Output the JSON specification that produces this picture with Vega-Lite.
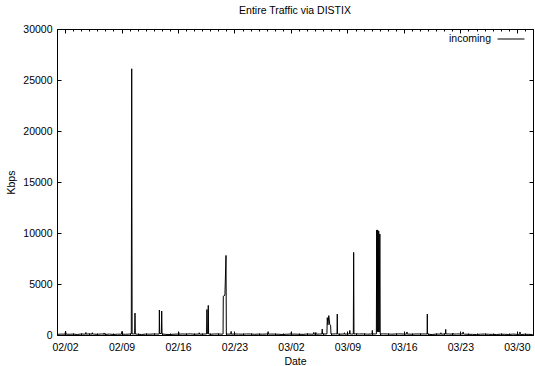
{
  "$schema": "https://vega.github.io/schema/vega-lite/v6.json",
  "width": 476,
  "height": 306,
  "autosize": {"type": "none"},
  "padding": {"left": 57, "top": 29, "right": 2, "bottom": 31},
  "title": {"text": "Entire Traffic via DISTIX", "font": "Liberation Sans", "fontSize": 10.5, "fontWeight": "normal", "color": "#000", "offset": 8, "anchor": "middle"},
  "data": {"values": [
    {"t": "2003-02-01 00:00", "v": 60}, {"t": "2003-02-01 12:00", "v": 90},
    {"t": "2003-02-02 00:00", "v": 80}, {"t": "2003-02-02 12:00", "v": 70},
    {"t": "2003-02-03 00:00", "v": 90}, {"t": "2003-02-03 12:00", "v": 50},
    {"t": "2003-02-04 00:00", "v": 100}, {"t": "2003-02-04 12:00", "v": 80},
    {"t": "2003-02-05 00:00", "v": 110}, {"t": "2003-02-05 12:00", "v": 90},
    {"t": "2003-02-06 00:00", "v": 70}, {"t": "2003-02-06 12:00", "v": 100},
    {"t": "2003-02-07 00:00", "v": 60}, {"t": "2003-02-07 12:00", "v": 90},
    {"t": "2003-02-08 00:00", "v": 50}, {"t": "2003-02-08 12:00", "v": 80},
    {"t": "2003-02-09 00:00", "v": 80}, {"t": "2003-02-09 12:00", "v": 70},
    {"t": "2003-02-10 00:00", "v": 90}, {"t": "2003-02-10 12:00", "v": 100},
    {"t": "2003-02-11 00:00", "v": 70}, {"t": "2003-02-11 12:00", "v": 50},
    {"t": "2003-02-12 00:00", "v": 90}, {"t": "2003-02-12 12:00", "v": 80},
    {"t": "2003-02-13 00:00", "v": 100}, {"t": "2003-02-13 12:00", "v": 90},
    {"t": "2003-02-14 12:00", "v": 60},
    {"t": "2003-02-15 00:00", "v": 50}, {"t": "2003-02-15 12:00", "v": 80},
    {"t": "2003-02-16 00:00", "v": 90}, {"t": "2003-02-16 12:00", "v": 100},
    {"t": "2003-02-17 00:00", "v": 90}, {"t": "2003-02-17 12:00", "v": 110},
    {"t": "2003-02-18 00:00", "v": 80}, {"t": "2003-02-18 12:00", "v": 90},
    {"t": "2003-02-19 00:00", "v": 90}, {"t": "2003-02-19 12:00", "v": 100},
    {"t": "2003-02-20 00:00", "v": 70}, {"t": "2003-02-20 12:00", "v": 100},
    {"t": "2003-02-21 00:00", "v": 100}, {"t": "2003-02-21 12:00", "v": 80},
    {"t": "2003-02-22 00:00", "v": 90}, {"t": "2003-02-22 12:00", "v": 90},
    {"t": "2003-02-23 00:00", "v": 100}, {"t": "2003-02-23 12:00", "v": 90},
    {"t": "2003-02-24 00:00", "v": 80}, {"t": "2003-02-24 12:00", "v": 100},
    {"t": "2003-02-25 00:00", "v": 100}, {"t": "2003-02-25 12:00", "v": 70},
    {"t": "2003-02-26 00:00", "v": 90}, {"t": "2003-02-26 12:00", "v": 80},
    {"t": "2003-02-27 00:00", "v": 100}, {"t": "2003-02-27 12:00", "v": 90},
    {"t": "2003-02-28 00:00", "v": 90}, {"t": "2003-02-28 12:00", "v": 70},
    {"t": "2003-03-01 00:00", "v": 50}, {"t": "2003-03-01 12:00", "v": 80},
    {"t": "2003-03-02 00:00", "v": 90}, {"t": "2003-03-02 12:00", "v": 90},
    {"t": "2003-03-03 00:00", "v": 70}, {"t": "2003-03-03 12:00", "v": 60},
    {"t": "2003-03-04 00:00", "v": 100}, {"t": "2003-03-04 12:00", "v": 80},
    {"t": "2003-03-05 00:00", "v": 90}, {"t": "2003-03-05 12:00", "v": 90},
    {"t": "2003-03-06 00:00", "v": 100},
    {"t": "2003-03-07 00:00", "v": 90}, {"t": "2003-03-07 12:00", "v": 110},
    {"t": "2003-03-08 00:00", "v": 80}, {"t": "2003-03-08 12:00", "v": 100},
    {"t": "2003-03-09 00:00", "v": 100}, {"t": "2003-03-09 12:00", "v": 90},
    {"t": "2003-03-10 00:00", "v": 110}, {"t": "2003-03-10 12:00", "v": 100},
    {"t": "2003-03-11 00:00", "v": 110}, {"t": "2003-03-11 12:00", "v": 80},
    {"t": "2003-03-12 00:00", "v": 100}, {"t": "2003-03-12 12:00", "v": 100},
    {"t": "2003-03-13 12:00", "v": 110},
    {"t": "2003-03-14 00:00", "v": 100}, {"t": "2003-03-14 12:00", "v": 80},
    {"t": "2003-03-15 00:00", "v": 100}, {"t": "2003-03-15 12:00", "v": 110},
    {"t": "2003-03-16 00:00", "v": 90}, {"t": "2003-03-16 12:00", "v": 90},
    {"t": "2003-03-17 00:00", "v": 80}, {"t": "2003-03-17 12:00", "v": 100},
    {"t": "2003-03-18 00:00", "v": 100}, {"t": "2003-03-18 12:00", "v": 100},
    {"t": "2003-03-19 00:00", "v": 70}, {"t": "2003-03-19 12:00", "v": 50},
    {"t": "2003-03-20 00:00", "v": 90}, {"t": "2003-03-20 12:00", "v": 90},
    {"t": "2003-03-21 00:00", "v": 100}, {"t": "2003-03-21 12:00", "v": 100},
    {"t": "2003-03-22 00:00", "v": 90}, {"t": "2003-03-22 12:00", "v": 100},
    {"t": "2003-03-23 00:00", "v": 100}, {"t": "2003-03-23 12:00", "v": 80},
    {"t": "2003-03-24 00:00", "v": 70}, {"t": "2003-03-24 12:00", "v": 60},
    {"t": "2003-03-25 00:00", "v": 50}, {"t": "2003-03-25 12:00", "v": 80},
    {"t": "2003-03-26 00:00", "v": 90}, {"t": "2003-03-26 12:00", "v": 70},
    {"t": "2003-03-27 00:00", "v": 60}, {"t": "2003-03-27 12:00", "v": 50},
    {"t": "2003-03-28 00:00", "v": 80}, {"t": "2003-03-28 12:00", "v": 70},
    {"t": "2003-03-29 00:00", "v": 50}, {"t": "2003-03-29 12:00", "v": 90},
    {"t": "2003-03-30 00:00", "v": 60}, {"t": "2003-03-30 12:00", "v": 50},
    {"t": "2003-03-31 00:00", "v": 70}, {"t": "2003-03-31 12:00", "v": 60},
    {"t": "2003-03-31 23:00", "v": 50},
    {"t": "2003-02-02 01:30", "v": 380}, {"t": "2003-02-02 03:00", "v": 80},
    {"t": "2003-02-04 13:00", "v": 80}, {"t": "2003-02-04 14:00", "v": 250}, {"t": "2003-02-04 15:00", "v": 80},
    {"t": "2003-02-05 08:00", "v": 80}, {"t": "2003-02-05 09:00", "v": 220}, {"t": "2003-02-05 10:00", "v": 80},
    {"t": "2003-02-06 19:00", "v": 80}, {"t": "2003-02-06 20:00", "v": 200}, {"t": "2003-02-06 21:00", "v": 80},
    {"t": "2003-02-09 01:00", "v": 350}, {"t": "2003-02-09 02:00", "v": 80},
    {"t": "2003-02-16 01:00", "v": 80}, {"t": "2003-02-16 02:00", "v": 300}, {"t": "2003-02-16 03:00", "v": 80},
    {"t": "2003-02-18 14:00", "v": 80}, {"t": "2003-02-18 15:00", "v": 220}, {"t": "2003-02-18 16:00", "v": 80},
    {"t": "2003-02-22 13:00", "v": 80}, {"t": "2003-02-22 14:00", "v": 350}, {"t": "2003-02-22 15:00", "v": 80},
    {"t": "2003-02-27 03:00", "v": 80}, {"t": "2003-02-27 04:00", "v": 330}, {"t": "2003-02-27 05:00", "v": 80},
    {"t": "2003-03-02 01:00", "v": 280}, {"t": "2003-03-02 02:00", "v": 80},
    {"t": "2003-03-05 01:00", "v": 80}, {"t": "2003-03-05 02:00", "v": 250}, {"t": "2003-03-05 03:00", "v": 80},
    {"t": "2003-03-08 14:00", "v": 80}, {"t": "2003-03-08 15:00", "v": 220}, {"t": "2003-03-08 16:00", "v": 80},
    {"t": "2003-03-20 13:00", "v": 80}, {"t": "2003-03-20 14:00", "v": 220}, {"t": "2003-03-20 15:00", "v": 80},
    {"t": "2003-03-22 01:00", "v": 80}, {"t": "2003-03-22 02:00", "v": 180}, {"t": "2003-03-22 03:00", "v": 80},
    {"t": "2003-02-10 05:00", "v": 100}, {"t": "2003-02-10 06:15", "v": 26100}, {"t": "2003-02-10 07:30", "v": 100},
    {"t": "2003-02-10 15:00", "v": 100}, {"t": "2003-02-10 16:00", "v": 2150}, {"t": "2003-02-10 17:00", "v": 100},
    {"t": "2003-02-13 16:00", "v": 100}, {"t": "2003-02-13 16:30", "v": 2450}, {"t": "2003-02-13 17:30", "v": 150}, {"t": "2003-02-13 22:30", "v": 150}, {"t": "2003-02-13 23:30", "v": 2350}, {"t": "2003-02-14 00:30", "v": 100},
    {"t": "2003-02-19 13:00", "v": 100}, {"t": "2003-02-19 14:00", "v": 2500}, {"t": "2003-02-19 15:00", "v": 150}, {"t": "2003-02-19 17:00", "v": 150}, {"t": "2003-02-19 18:00", "v": 2900}, {"t": "2003-02-19 19:00", "v": 100},
    {"t": "2003-02-21 14:00", "v": 100}, {"t": "2003-02-21 14:40", "v": 3800}, {"t": "2003-02-21 19:30", "v": 3900}, {"t": "2003-02-21 22:45", "v": 7800}, {"t": "2003-02-21 23:45", "v": 100},
    {"t": "2003-03-04 19:00", "v": 80}, {"t": "2003-03-04 20:00", "v": 250}, {"t": "2003-03-04 21:00", "v": 80},
    {"t": "2003-03-05 20:00", "v": 100}, {"t": "2003-03-05 21:00", "v": 580}, {"t": "2003-03-05 22:00", "v": 100},
    {"t": "2003-03-06 11:00", "v": 100}, {"t": "2003-03-06 12:00", "v": 1700}, {"t": "2003-03-06 14:00", "v": 1000}, {"t": "2003-03-06 16:30", "v": 1900}, {"t": "2003-03-06 19:30", "v": 1000}, {"t": "2003-03-06 22:00", "v": 950}, {"t": "2003-03-06 23:00", "v": 100},
    {"t": "2003-03-07 17:00", "v": 100}, {"t": "2003-03-07 17:45", "v": 2050}, {"t": "2003-03-07 18:30", "v": 100},
    {"t": "2003-03-09 06:00", "v": 100}, {"t": "2003-03-09 07:00", "v": 450}, {"t": "2003-03-09 08:00", "v": 100},
    {"t": "2003-03-09 17:30", "v": 100}, {"t": "2003-03-09 18:30", "v": 8100}, {"t": "2003-03-09 19:30", "v": 100},
    {"t": "2003-03-12 01:00", "v": 100}, {"t": "2003-03-12 02:00", "v": 450}, {"t": "2003-03-12 03:00", "v": 100},
    {"t": "2003-03-12 14:00", "v": 100}, {"t": "2003-03-12 15:00", "v": 10300}, {"t": "2003-03-12 16:30", "v": 300}, {"t": "2003-03-12 18:00", "v": 10300}, {"t": "2003-03-12 19:30", "v": 300}, {"t": "2003-03-12 21:00", "v": 10200}, {"t": "2003-03-12 22:30", "v": 300}, {"t": "2003-03-13 00:00", "v": 9900}, {"t": "2003-03-13 00:45", "v": 9900}, {"t": "2003-03-13 01:30", "v": 100},
    {"t": "2003-03-16 08:00", "v": 90}, {"t": "2003-03-16 09:00", "v": 300}, {"t": "2003-03-16 10:00", "v": 90},
    {"t": "2003-03-18 21:00", "v": 100}, {"t": "2003-03-18 21:35", "v": 2050}, {"t": "2003-03-18 22:15", "v": 100},
    {"t": "2003-03-21 03:30", "v": 100}, {"t": "2003-03-21 04:20", "v": 550}, {"t": "2003-03-21 05:00", "v": 100},
    {"t": "2003-03-23 07:00", "v": 100}, {"t": "2003-03-23 08:00", "v": 300}, {"t": "2003-03-23 09:00", "v": 100},
    {"t": "2003-03-30 08:30", "v": 60}, {"t": "2003-03-30 09:20", "v": 300}, {"t": "2003-03-30 10:00", "v": 60}
  ]},
  "layer": [
    {
      "mark": {"type": "line", "strokeWidth": 1},
      "encoding": {
        "x": {"field": "t", "type": "temporal",
          "scale": {"domain": [{"year": 2003, "month": 2, "date": 1}, {"year": 2003, "month": 4, "date": 1}]},
          "axis": {"values": [{"year": 2003, "month": 2, "date": 2}, {"year": 2003, "month": 2, "date": 9}, {"year": 2003, "month": 2, "date": 16}, {"year": 2003, "month": 2, "date": 23}, {"year": 2003, "month": 3, "date": 2}, {"year": 2003, "month": 3, "date": 9}, {"year": 2003, "month": 3, "date": 16}, {"year": 2003, "month": 3, "date": 23}, {"year": 2003, "month": 3, "date": 30}],
            "format": "%m/%d", "ticks": false, "labelPadding": 7, "labelFlush": false, "labelOverlap": false, "title": "Date", "titlePadding": 4}},
        "y": {"field": "v", "type": "quantitative",
          "scale": {"domain": [0, 30000], "nice": false},
          "axis": {"values": [0, 5000, 10000, 15000, 20000, 25000, 30000], "format": "d", "ticks": false, "labelPadding": 5, "title": "Kbps", "titlePadding": 6}},
        "color": {"datum": "incoming", "type": "nominal", "scale": {"range": ["#000000"]},
          "legend": {"title": null, "orient": "none", "legendX": 440, "legendY": -4, "padding": 0, "symbolType": "stroke", "symbolSize": 729, "symbolStrokeWidth": 1, "symbolStrokeColor": "#000", "labelAlign": "right", "labelOffset": -34, "labelFont": "Liberation Sans", "labelFontSize": 10.5, "labelColor": "#000"}}
      }
    },
    {
      "mark": {"type": "point", "opacity": 0},
      "encoding": {
        "x": {"field": "t", "type": "temporal",
          "axis": {"orient": "bottom", "values": [{"year": 2003, "month": 2, "date": 2}, {"year": 2003, "month": 2, "date": 9}, {"year": 2003, "month": 2, "date": 16}, {"year": 2003, "month": 2, "date": 23}, {"year": 2003, "month": 3, "date": 2}, {"year": 2003, "month": 3, "date": 9}, {"year": 2003, "month": 3, "date": 16}, {"year": 2003, "month": 3, "date": 23}, {"year": 2003, "month": 3, "date": 30}],
            "labels": false, "tickSize": -4, "title": null}},
        "y": {"field": "v", "type": "quantitative",
          "axis": {"orient": "left", "values": [0, 5000, 10000, 15000, 20000, 25000, 30000], "labels": false, "tickSize": -4, "title": null}}
      }
    },
    {
      "mark": {"type": "point", "opacity": 0},
      "encoding": {
        "x": {"field": "t", "type": "temporal",
          "axis": {"orient": "top", "values": [{"year": 2003, "month": 2, "date": 2}, {"year": 2003, "month": 2, "date": 9}, {"year": 2003, "month": 2, "date": 16}, {"year": 2003, "month": 2, "date": 23}, {"year": 2003, "month": 3, "date": 2}, {"year": 2003, "month": 3, "date": 9}, {"year": 2003, "month": 3, "date": 16}, {"year": 2003, "month": 3, "date": 23}, {"year": 2003, "month": 3, "date": 30}],
            "labels": false, "tickSize": -4, "title": null}},
        "y": {"field": "v", "type": "quantitative",
          "axis": {"orient": "right", "values": [0, 5000, 10000, 15000, 20000, 25000, 30000], "labels": false, "tickSize": -4, "title": null}}
      }
    },
    {
      "mark": {"type": "point", "opacity": 0},
      "encoding": {
        "x": {"field": "t", "type": "temporal",
          "axis": {"orient": "bottom", "tickCount": {"interval": "day", "step": 1}, "labels": false, "tickSize": -2, "title": null}},
        "y": {"field": "v", "type": "quantitative", "axis": null}
      }
    },
    {
      "mark": {"type": "point", "opacity": 0},
      "encoding": {
        "x": {"field": "t", "type": "temporal",
          "axis": {"orient": "top", "tickCount": {"interval": "day", "step": 1}, "labels": false, "tickSize": -2, "title": null}},
        "y": {"field": "v", "type": "quantitative", "axis": null}
      }
    }
  ],
  "resolve": {"axis": {"x": "independent", "y": "independent"}},
  "config": {
    "font": "Liberation Sans",
    "background": "#ffffff",
    "view": {"stroke": "#000", "strokeWidth": 1},
    "axis": {"grid": false, "domain": false, "labelFont": "Liberation Sans", "labelFontSize": 10.5, "labelColor": "#000", "titleFont": "Liberation Sans", "titleFontSize": 10.5, "titleFontWeight": "normal", "titleColor": "#000", "tickColor": "#000", "tickWidth": 1}
  }
}
